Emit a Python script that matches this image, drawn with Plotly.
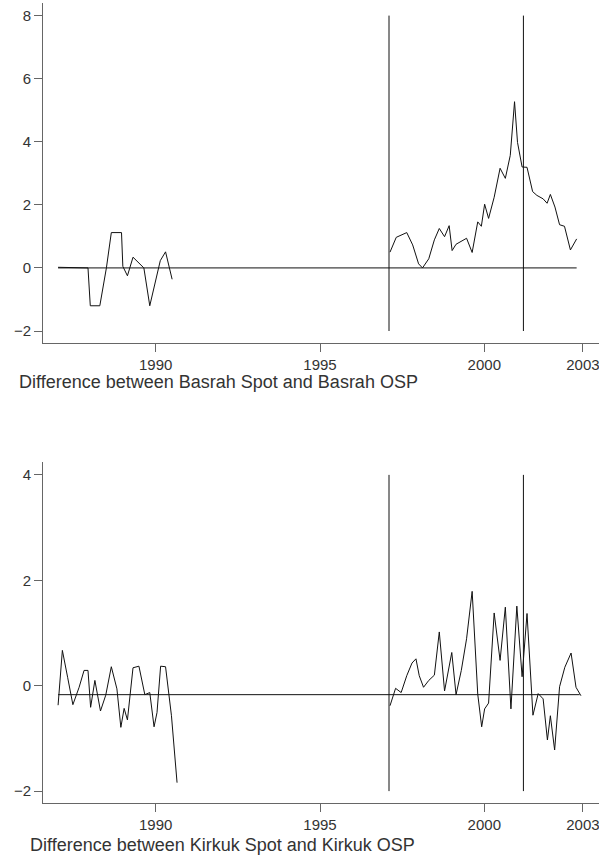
import plotly.graph_objects as go

# ---------------- data ----------------
basrah_years_a = [1987.03, 1987.49, 1987.94, 1988.01, 1988.30, 1988.50, 1988.65, 1988.96,
                  1989.00, 1989.14, 1989.31, 1989.64, 1989.82, 1990.14, 1990.30, 1990.50]
basrah_vals_a = [0.02, 0.02, 0.0, -1.2, -1.2, 0.0, 1.12, 1.12,
                 0.05, -0.25, 0.34, 0.0, -1.2, 0.23, 0.51, -0.36]

basrah_years_b = [1997.13, 1997.32, 1997.64, 1997.82, 1998.00, 1998.12, 1998.31, 1998.48,
                  1998.63, 1998.79, 1998.93, 1999.02, 1999.14, 1999.46, 1999.63, 1999.80,
                  1999.91, 2000.01, 2000.13, 2000.30, 2000.48, 2000.64, 2000.79, 2000.92,
                  2001.01, 2001.15, 2001.30, 2001.47, 2001.60, 2001.79, 2001.91, 2002.01,
                  2002.15, 2002.29, 2002.44, 2002.62, 2002.81]
basrah_vals_b = [0.50, 0.97, 1.12, 0.73, 0.13, 0.0, 0.29, 0.89,
                 1.25, 0.99, 1.34, 0.55, 0.75, 0.94, 0.49, 1.46,
                 1.32, 2.02, 1.57, 2.24, 3.16, 2.84, 3.57, 5.27,
                 3.98, 3.20, 3.19, 2.42, 2.30, 2.19, 2.05, 2.33,
                 1.93, 1.37, 1.32, 0.57, 0.92]

kirkuk_years_a = [1987.03, 1987.16, 1987.32, 1987.48, 1987.67, 1987.82, 1987.94, 1988.02,
                  1988.15, 1988.32, 1988.48, 1988.65, 1988.82, 1988.94, 1989.04, 1989.14,
                  1989.31, 1989.49, 1989.67, 1989.82, 1989.95, 1990.04, 1990.15, 1990.30,
                  1990.48, 1990.65]
kirkuk_vals_a = [-0.37, 0.67, 0.16, -0.36, -0.03, 0.29, 0.29, -0.41,
                 0.10, -0.48, -0.18, 0.36, -0.06, -0.79, -0.43, -0.65,
                 0.34, 0.37, -0.17, -0.13, -0.78, -0.51, 0.37, 0.36,
                 -0.57, -1.84]

kirkuk_years_b = [1997.13, 1997.30, 1997.47, 1997.64, 1997.80, 1997.92, 1998.02, 1998.15,
                  1998.31, 1998.48, 1998.63, 1998.79, 1999.01, 1999.14, 1999.30, 1999.46,
                  1999.63, 1999.80, 1999.92, 2000.01, 2000.13, 2000.30, 2000.48, 2000.64,
                  2000.81, 2000.99, 2001.15, 2001.30, 2001.48, 2001.64, 2001.79, 2001.92,
                  2002.01, 2002.14, 2002.29, 2002.45, 2002.64, 2002.79, 2002.94]
kirkuk_vals_b = [-0.38, -0.05, -0.13, 0.19, 0.43, 0.51, 0.19, -0.03,
                 0.10, 0.20, 1.02, -0.10, 0.63, -0.17, 0.29, 0.89,
                 1.79, -0.16, -0.78, -0.44, -0.33, 1.38, 0.48, 1.49,
                 -0.44, 1.51, 0.17, 1.37, -0.56, -0.15, -0.25, -1.03,
                 -0.57, -1.22, -0.02, 0.35, 0.62, -0.03, -0.19]

basrah_ref = 0.0
kirkuk_ref = -0.17
ref_span = [1987.03, 2002.81]
ref_span_k = [1987.03, 2002.90]
event_years = [1997.10, 2001.19]
basrah_event_span = [-2, 8]
kirkuk_event_span = [-2, 4]

x_ticks = [1990, 1995, 2000, 2003]
basrah_yticks = [-2, 0, 2, 4, 6, 8]
kirkuk_yticks = [-2, 0, 2, 4]

titles = ["Difference between Basrah Spot and Basrah OSP",
          "Difference between Kirkuk Spot and Kirkuk OSP"]

# ---------------- figure ----------------
W, H = 599, 863
LINE = "#111111"
AXIS = "#666666"
TEXT = "#333333"
FONT = "Liberation Sans, Arial, Helvetica, sans-serif"

fig = go.Figure()


def add_series(xs, ys, xa, ya):
    fig.add_trace(go.Scatter(x=xs, y=ys, mode="lines", xaxis=xa, yaxis=ya,
                             line=dict(color=LINE, width=1), showlegend=False,
                             hoverinfo="skip"))


# top panel
add_series(basrah_years_a, basrah_vals_a, "x", "y")
add_series(basrah_years_b, basrah_vals_b, "x", "y")
add_series(ref_span, [basrah_ref, basrah_ref], "x", "y")
for ev in event_years:
    add_series([ev, ev], basrah_event_span, "x", "y")

# bottom panel
add_series(kirkuk_years_a, kirkuk_vals_a, "x2", "y2")
add_series(kirkuk_years_b, kirkuk_vals_b, "x2", "y2")
add_series(ref_span_k, [kirkuk_ref, kirkuk_ref], "x2", "y2")
for ev in event_years:
    add_series([ev, ev], kirkuk_event_span, "x2", "y2")

x_left = 43.3 / W
xrange = [1986.58, 2003.49]

top_dom = [1 - 343.3 / H, 1 - 3.3 / H]
bot_dom = [1 - 802.7 / H, 1 - 461.7 / H]

common_x = dict(range=xrange, tickvals=x_ticks, ticktext=[str(v) for v in x_ticks],
                showgrid=False, zeroline=False, showline=True, linecolor=AXIS,
                linewidth=1.3, ticks="outside", ticklen=8, tickcolor=AXIS, tickwidth=1,
                ticklabeloverflow="allow",
                tickfont=dict(family=FONT, size=15, color=TEXT), domain=[x_left, 1])
common_y = dict(showgrid=False, zeroline=False, showline=True, linecolor=AXIS,
                linewidth=1.3, ticks="outside", ticklen=8, tickcolor=AXIS, tickwidth=1.2,
                tickfont=dict(family=FONT, size=15, color=TEXT))

fig.update_layout(
    width=W, height=H,
    margin=dict(l=0, r=0, t=0, b=0),
    paper_bgcolor="white", plot_bgcolor="white",
    xaxis=dict(common_x, anchor="y"),
    yaxis=dict(common_y, range=[-2.39, 8.39], tickvals=basrah_yticks,
               ticktext=["\u22122" if v == -2 else str(v) for v in basrah_yticks],
               domain=top_dom, anchor="x"),
    xaxis2=dict(common_x, anchor="y2"),
    yaxis2=dict(common_y, range=[-2.22, 4.25], tickvals=kirkuk_yticks,
                ticktext=["\u22122" if v == -2 else str(v) for v in kirkuk_yticks],
                domain=bot_dom, anchor="x2"),
    annotations=[
        dict(text=titles[0], xref="paper", yref="paper", x=17 / W, y=1 - 382 / H,
             xanchor="left", yanchor="middle", showarrow=False,
             font=dict(family=FONT, size=18, color=TEXT)),
        dict(text=titles[1], xref="paper", yref="paper", x=28 / W, y=1 - 845 / H,
             xanchor="left", yanchor="middle", showarrow=False,
             font=dict(family=FONT, size=18, color=TEXT)),
    ],
)

fig.write_html("out.html", config={"displayModeBar": False})

# remove default page margins / scrollbars so the figure fills the window exactly
with open("out.html", "r", encoding="utf-8") as f:
    html = f.read()
html = html.replace("<head>", "<head><style>html,body{margin:0;padding:0;overflow:hidden;}</style>", 1)
with open("out.html", "w", encoding="utf-8") as f:
    f.write(html)
